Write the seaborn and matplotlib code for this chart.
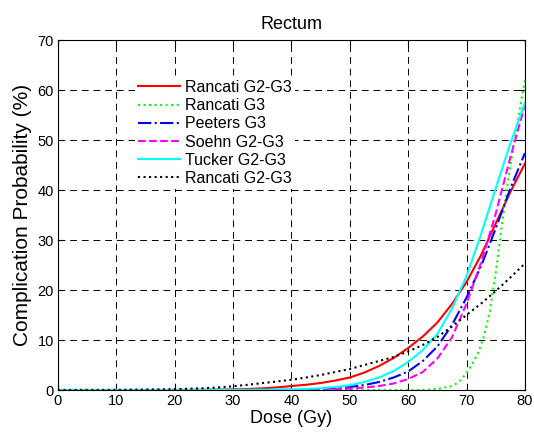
import matplotlib
matplotlib.use("Agg")
import matplotlib.pyplot as plt
import seaborn as sns

# dose grid (Gy) shared by most curves
dose = [0, 10, 20, 25, 27.5, 30, 32.5, 35, 37.5, 40, 42.5, 45, 47.5, 50,
        52.5, 55, 57.5, 60, 62.5, 65, 67.5, 70, 72.5, 75, 77.5, 80]

rancati_g23 = [0, 0, 0.02, 0.05, 0.08, 0.12, 0.2, 0.33, 0.52, 0.8, 1.05, 1.4, 1.9, 2.5,
               3.5, 4.8, 6.4, 8.4, 10.7, 13.5, 17.2, 21.6, 27.0, 33.3, 39.6, 45.3]
peeters_g3 = [0, 0, 0, 0, 0, 0, 0, 0.02, 0.03, 0.05, 0.1, 0.2, 0.35, 0.6,
              1.0, 1.6, 2.5, 3.7, 5.8, 8.7, 13.0, 18.5, 24.8, 32.3, 40.3, 47.4]
soehn_g23 = [0, 0, 0, 0, 0, 0, 0, 0, 0, 0.02, 0.04, 0.08, 0.15, 0.3,
             0.5, 0.8, 1.3, 2.2, 3.6, 6.3, 10.5, 17.3, 25.5, 35.3, 46.5, 57.0]
tucker_g23 = [0, 0, 0, 0, 0.01, 0.02, 0.04, 0.07, 0.09, 0.12, 0.2, 0.35, 0.6, 0.95,
              1.6, 2.5, 3.8, 5.6, 8.0, 11.2, 16.3, 22.8, 31.2, 40.4, 49.3, 57.4]
rancati_g23_b = [0, 0.02, 0.15, 0.35, 0.52, 0.75, 1.05, 1.38, 1.7, 2.05, 2.5, 3.0, 3.6, 4.2,
                 5.0, 5.8, 6.6, 7.7, 9.0, 10.6, 12.7, 15.0, 17.3, 19.8, 22.5, 25.3]

# steep G3 curve on its own grid
dose_g3 = [0, 20, 40, 60, 62.5, 65, 67.5, 68, 69, 70, 71, 72, 73, 74, 75, 76, 77, 78, 79, 80]
rancati_g3 = [0, 0, 0, 0, 0.02, 0.2, 0.8, 1.1, 2.0, 3.4, 5.2, 7.5, 10.8, 15.8, 23.5,
              32.5, 41.0, 48.5, 55.5, 62.0]

series = [
    ("Rancati G2-G3", dose, rancati_g23, "#ff0000", "-"),
    ("Rancati G3", dose_g3, rancati_g3, "#00ff00", ":"),
    ("Peeters G3", dose, peeters_g3, "#0000ff", "-."),
    ("Soehn G2-G3", dose, soehn_g23, "#ff00ff", "--"),
    ("Tucker G2-G3", dose, tucker_g23, "#00ffff", "-"),
    ("Rancati G2-G3", dose, rancati_g23_b, "#000000", ":"),
]

plt.rcParams["font.family"] = ["Liberation Sans", "DejaVu Sans"]

fig = plt.figure(figsize=(5.34, 4.32), dpi=100)
ax = fig.add_axes([0.1086, 0.0972, 0.8744, 0.8102])

for name, xs, ys, col, ls in series:
    sns.lineplot(x=xs, y=ys, ax=ax, color=col, linestyle=ls, linewidth=1.5, label=name)

ax.set_xlim(0, 80)
ax.set_ylim(0, 70)
ax.set_xticks(range(0, 81, 10))
ax.set_yticks(range(0, 71, 10))
ax.grid(True, color="k", linestyle=(0, (7, 5)), linewidth=0.7)
ax.tick_params(direction="in", top=True, right=True, length=4, labelsize=10.5, pad=3)
for sp in ax.spines.values():
    sp.set_linewidth(0.8)

ax.set_title("Rectum", fontsize=13, pad=8)
ax.set_xlabel("Dose (Gy)", fontsize=13, labelpad=1)
ax.set_ylabel("Complication Probability (%)", fontsize=15, labelpad=4)

leg = ax.legend(loc="upper left", bbox_to_anchor=(0.165, 0.895), fontsize=11.5,
                frameon=True, fancybox=False, borderpad=0.2, borderaxespad=0,
                labelspacing=0.2, handlelength=2.6, handletextpad=0.35)
leg.get_frame().set_facecolor("white")
leg.get_frame().set_edgecolor("none")
leg.get_frame().set_alpha(1)

fig.savefig("out.png", dpi=100)
